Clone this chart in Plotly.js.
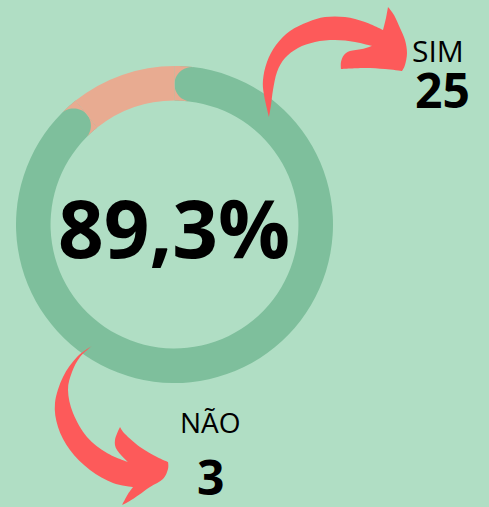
<!DOCTYPE html>
<html>
<head>
<meta charset="utf-8">
<script src="https://cdn.plot.ly/plotly-3.0.1.min.js"></script>
<style>
html,body{margin:0;padding:0;background:#b0dec4;}
#chart{width:489px;height:507px;}
</style>
</head>
<body>
<div id="chart"></div>
<script>
// ---- data ----
const categories = ['SIM', 'NÃO'];
const counts = [25, 3];

// ---- layout constants ----
const W = 489, H = 507;
const BG = '#b0dec4', GREEN = '#7ebf9c', SALMON = '#e8ab91', RED = '#fd5a5a';
const CX = 174.5, CY = 224.5, RO = 158.5, HOLE = 0.782;
const RI = RO * HOLE, RMID = (RO + RI) / 2, HALFW = (RO - RI) / 2;
const ROT = 0;

function px2p(x, y) { return [x / W, 1 - y / H]; }
function fmt(p) { const q = px2p(p[0], p[1]); return q[0].toFixed(5) + ',' + q[1].toFixed(5); }
function pathFrom(pts) { return 'M' + pts.map(fmt).join('L') + 'Z'; }
// smooth closed outline (Catmull-Rom); indices in `corners` stay sharp
function smoothPath(pts, corners) {
  const n = pts.length, T = [];
  for (let i = 0; i < n; i++) {
    if (corners.indexOf(i) >= 0) { T.push([0, 0]); continue; }
    const a = pts[(i - 1 + n) % n], b = pts[(i + 1) % n];
    T.push([(b[0] - a[0]) / 2, (b[1] - a[1]) / 2]);
  }
  let d = 'M' + fmt(pts[0]);
  for (let i = 0; i < n; i++) {
    const p = pts[i], q = pts[(i + 1) % n];
    const c1 = [p[0] + T[i][0] / 3, p[1] + T[i][1] / 3];
    const c2 = [q[0] - T[(i + 1) % n][0] / 3, q[1] - T[(i + 1) % n][1] / 3];
    d += 'C' + fmt(c1) + ' ' + fmt(c2) + ' ' + fmt(q);
  }
  return d + 'Z';
}
function polar(r, deg) { const a = deg * Math.PI / 180; return [CX + r * Math.sin(a), CY - r * Math.cos(a)]; }

// rounded-cap patch at slice boundary b; s = side where green lies (+1 higher angles, -1 lower)
function capPatch(b, s) {
  const dDeg = (HALFW / RMID) * 180 / Math.PI;
  const tc = b + s * dDeg;
  const pts = [];
  const N = 12;
  for (let i = 0; i <= N; i++) pts.push(polar(RO, tc + (b - tc) * i / N));
  for (let i = 0; i <= N; i++) pts.push(polar(RI, b + (tc - b) * i / N));
  const c = polar(RMID, tc);
  const a = tc * Math.PI / 180;
  const u = [Math.sin(a), -Math.cos(a)];
  const t = [-s * Math.cos(a), -s * Math.sin(a)];
  for (let i = 0; i <= 24; i++) {
    const psi = Math.PI * i / 24;
    pts.push([c[0] + HALFW * (-Math.cos(psi) * u[0] + Math.sin(psi) * t[0]),
              c[1] + HALFW * (-Math.cos(psi) * u[1] + Math.sin(psi) * t[1])]);
  }
  return pathFrom(pts);
}

const total = counts.reduce((a, b) => a + b, 0);
const simStart = ROT, simEnd = ROT + 360 * counts[0] / total;
const pctText = (100 * counts[0] / total).toFixed(1).replace('.', ',') + '%';

// decorative arrows (pixel outlines)
const arrowTop = [[269,117],[264,95],[263,80],[267,62],[276,45],[290,31],[308,22],[325,17],[345,17],[365,22],[383,30],
  [386,18],[388,7],[394,15],[400,28],[405,40],[407,53],[405,65],[402,71],[385,69],[365,68],[341,69],
  [341,62],[344,55],[350,51],[362,49],[372,46],[355,42],[335,40],[315,42],[298,48],[285,58],[277,72],[273,90],[271,105]];
const arrowTopCorners = [0, 10, 12, 18, 21, 26];
const arrowBottom = [[92,346],[77,357],[63,377],[55,403],[58,427],[70,450],[90,470],[113,483],[133,487],
  [128,494],[122,505],[133,499],[150,487],[163,479],[168,469],[168,462],[157,457],[140,447],[125,434],[120,427],
  [115,440],[117,450],[128,462],[107,453],[87,437],[73,413],[68,390],[72,372],[80,357]];
const arrowBottomCorners = [0, 8, 10, 15, 19, 22];

const trace = {
  type: 'pie',
  labels: categories,
  values: counts,
  sort: false,
  direction: 'clockwise',
  rotation: ROT,
  hole: HOLE,
  marker: { colors: [GREEN, SALMON], line: { width: 0 } },
  textinfo: 'none',
  hoverinfo: 'skip',
  showlegend: false,
  domain: { x: [(CX - RO) / W, (CX + RO) / W], y: [1 - (CY + RO) / H, 1 - (CY - RO) / H] }
};

function ann(text, x, y, size, weight) {
  const p = px2p(x, y);
  return { text: text, x: p[0], y: p[1], xref: 'paper', yref: 'paper', xanchor: 'center', yanchor: 'middle',
    showarrow: false, font: { family: 'Open Sans', size: size, color: '#000000', weight: weight } };
}

const layout = {
  width: W, height: H,
  margin: { l: 0, r: 0, t: 0, b: 0 },
  paper_bgcolor: BG, plot_bgcolor: BG,
  shapes: [
    { type: 'path', xref: 'paper', yref: 'paper', path: capPatch(simStart, 1), fillcolor: SALMON, line: { width: 0 }, layer: 'above' },
    { type: 'path', xref: 'paper', yref: 'paper', path: capPatch(simEnd, -1), fillcolor: SALMON, line: { width: 0 }, layer: 'above' },
    { type: 'path', xref: 'paper', yref: 'paper', path: smoothPath(arrowTop, arrowTopCorners), fillcolor: RED, line: { width: 0 }, layer: 'above' },
    { type: 'path', xref: 'paper', yref: 'paper', path: smoothPath(arrowBottom, arrowBottomCorners), fillcolor: RED, line: { width: 0 }, layer: 'above' }
  ],
  annotations: [
    ann(pctText, 174, 226.5, 80, 700),
    ann(categories[0], 438, 51, 30, 400),
    ann(String(counts[0]), 442, 89, 48, 700),
    ann(categories[1], 210, 422, 28, 400),
    ann(String(counts[1]), 210, 476, 48, 700)
  ]
};

Plotly.newPlot('chart', [trace], layout, { displayModeBar: false, staticPlot: true });
</script>
</body>
</html>
